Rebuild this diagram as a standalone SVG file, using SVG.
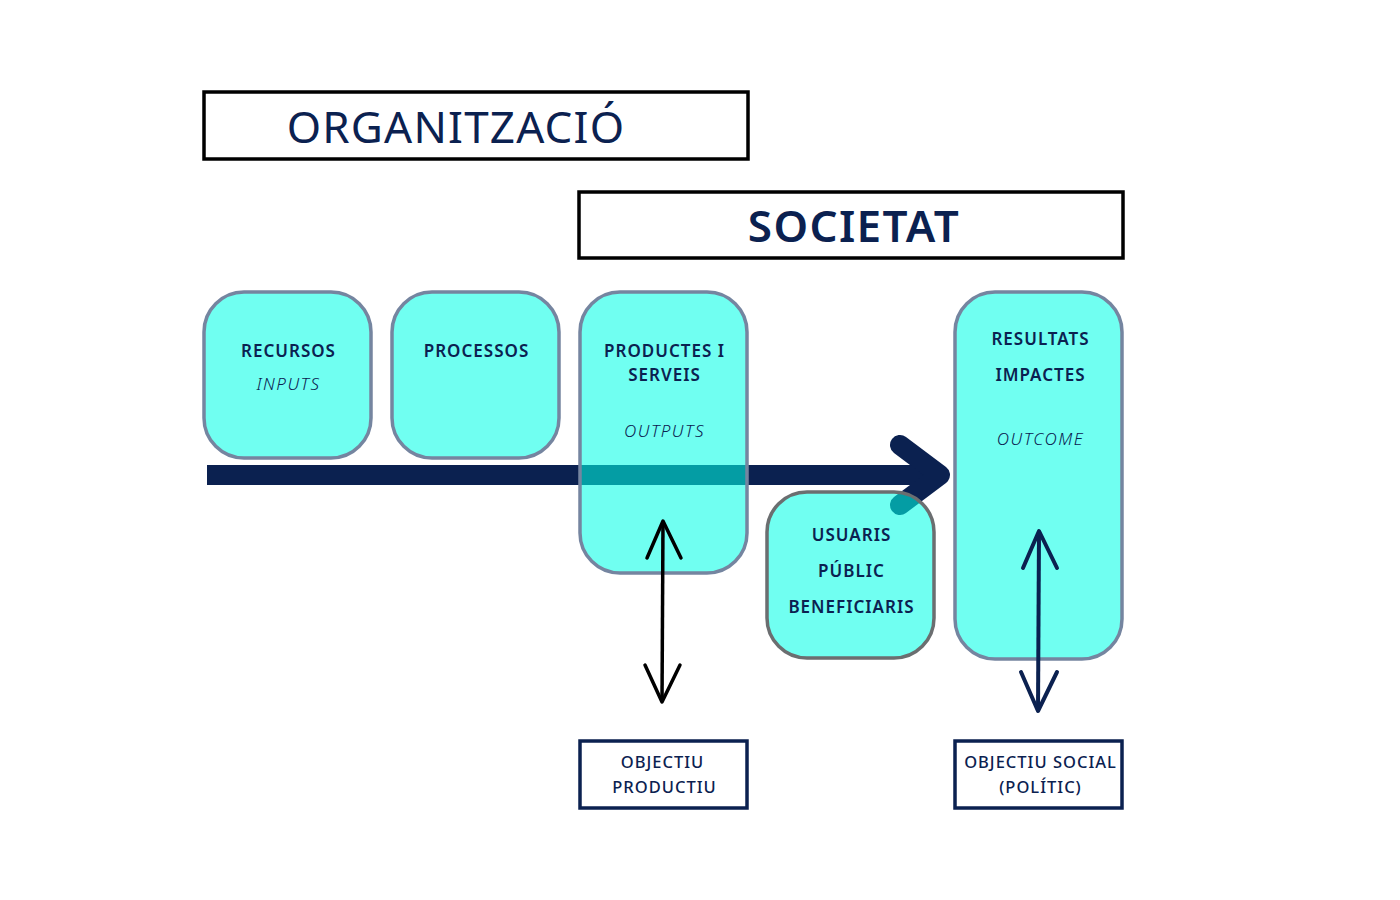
<svg xmlns="http://www.w3.org/2000/svg" width="1400" height="900" viewBox="0 0 1400 900">
<style>
.hdr{fill:#fff;stroke:#000;stroke-width:3.5}
.node{fill:rgb(0,255,230);fill-opacity:0.56;stroke:#7585a0;stroke-width:3.5}
.node2{fill:rgb(0,255,230);fill-opacity:0.56;stroke:#6b6e70;stroke-width:3.5}
.goal{fill:#fff;stroke:#0b2150;stroke-width:3.5}
text{font-family:"Noto Sans","Open Sans",sans-serif;fill:#0b2150;text-anchor:middle}
.t{font-size:17px;font-weight:600;letter-spacing:1px}
.i{font-size:17px;font-style:italic;font-weight:300;letter-spacing:1.5px}
.g{font-size:16.5px;font-weight:500;letter-spacing:1px}
</style>
<rect width="1400" height="900" fill="#fff"/>
<g id="organitzacio">
<rect class="hdr" x="204" y="92" width="544" height="67"/>
<text x="456" y="143" style="font-size:44px;font-weight:400;letter-spacing:1.2px">ORGANITZACIÓ</text>
</g>
<g id="societat">
<rect class="hdr" x="579" y="192" width="544" height="66"/>
<text x="854" y="242" style="font-size:44px;font-weight:600;letter-spacing:1.4px">SOCIETAT</text>
</g>
<g id="connectors">
<line x1="207" y1="475" x2="930" y2="475" stroke="#0b2150" stroke-width="20"/>
<polyline points="900,445 940,475 900,505" fill="none" stroke="#0b2150" stroke-width="20" stroke-linecap="round" stroke-linejoin="round"/>
</g>
<g id="recursos">
<rect class="node" x="204" y="292" width="167" height="166" rx="40"/>
<text class="t" x="288.5" y="357">RECURSOS</text>
<text class="i" x="288.5" y="390">INPUTS</text>
</g>
<g id="processos">
<rect class="node" x="392" y="292" width="167" height="166" rx="40"/>
<text class="t" x="476.5" y="357">PROCESSOS</text>
</g>
<g id="productes">
<rect class="node" x="580" y="292" width="167" height="281" rx="40"/>
<text class="t" x="664.5" y="357">PRODUCTES I</text>
<text class="t" x="664.5" y="381">SERVEIS</text>
<text class="i" x="664.5" y="437">OUTPUTS</text>
</g>
<g id="usuaris">
<rect class="node2" x="767" y="492" width="167" height="166" rx="40"/>
<text class="t" x="851.5" y="541">USUARIS</text>
<text class="t" x="851.5" y="577">PÚBLIC</text>
<text class="t" x="851.5" y="613">BENEFICIARIS</text>
</g>
<g id="resultats">
<rect class="node" x="955" y="292" width="167" height="367" rx="40"/>
<text class="t" x="1040.5" y="345">RESULTATS</text>
<text class="t" x="1040.5" y="381">IMPACTES</text>
<text class="i" x="1040.5" y="445">OUTCOME</text>
</g>
<g id="double-arrows">
<line x1="663" y1="521" x2="662" y2="702" stroke="#000" stroke-width="3.5"/>
<polyline points="647,558 663,521 681,558" fill="none" stroke="#000" stroke-width="3.5" stroke-linecap="round" stroke-linejoin="round"/>
<polyline points="645,665 662,702 680,665" fill="none" stroke="#000" stroke-width="3.5" stroke-linecap="round" stroke-linejoin="round"/>
<line x1="1039" y1="531" x2="1038" y2="711" stroke="#0b2150" stroke-width="4"/>
<polyline points="1023,568 1039,531 1057,568" fill="none" stroke="#0b2150" stroke-width="4" stroke-linecap="round" stroke-linejoin="round"/>
<polyline points="1021,672 1038,711 1057,672" fill="none" stroke="#0b2150" stroke-width="4" stroke-linecap="round" stroke-linejoin="round"/>
</g>
<g id="objectiu-productiu">
<rect class="goal" x="580" y="741" width="167" height="67"/>
<text class="g" x="662.5" y="768">OBJECTIU</text>
<text class="g" x="664.5" y="793">PRODUCTIU</text>
</g>
<g id="objectiu-social">
<rect class="goal" x="955" y="741" width="167" height="67"/>
<text class="g" x="1040.5" y="768">OBJECTIU SOCIAL</text>
<text class="g" x="1040.5" y="793">(POLÍTIC)</text>
</g>
</svg>
